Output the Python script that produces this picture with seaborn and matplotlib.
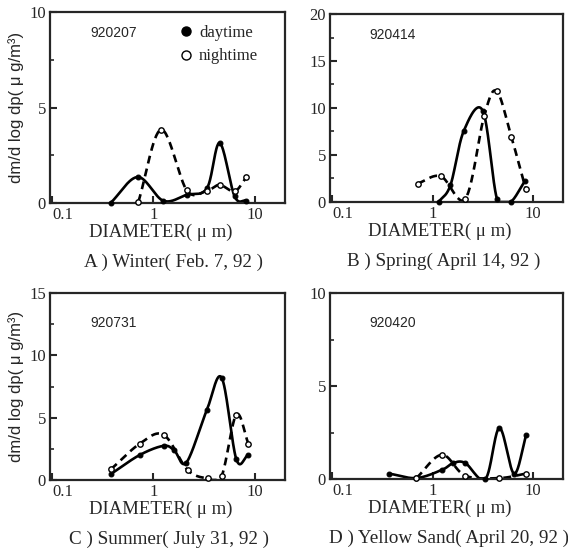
import numpy as np
import matplotlib
matplotlib.use("Agg")
import matplotlib.pyplot as plt
import seaborn as sns
from matplotlib.lines import Line2D
from matplotlib.ticker import FixedLocator, NullLocator, MultipleLocator

# ---------------- data ----------------
A_day_x = [0.38, 0.70, 1.25, 2.14, 3.39, 4.52, 6.35, 8.3]
A_day_y = [0.02, 1.36, 0.12, 0.43, 0.78, 3.14, 0.35, 0.12]
A_night_x = [0.71, 1.19, 2.14, 3.39, 4.52, 6.35, 8.3]
A_night_y = [0.06, 3.84, 0.66, 0.65, 0.95, 0.61, 1.36]

B_day_x = [1.15, 1.51, 2.05, 3.17, 4.4, 6.0, 8.3]
B_day_y = [0.0, 1.8, 7.57, 9.7, 0.3, 0.0, 2.2]
B_night_x = [0.71, 1.21, 2.13, 3.27, 4.36, 6.13, 8.5]
B_night_y = [1.96, 2.74, 0.36, 9.14, 11.8, 6.87, 1.4]

C_day_x = [0.38, 0.73, 1.26, 1.61, 2.12, 3.37, 4.73, 6.6, 8.6]
C_day_y = [0.48, 2.0, 2.74, 2.37, 1.4, 5.6, 8.2, 1.67, 1.99]
C_night_x = [0.38, 0.73, 1.26, 2.18, 3.47, 4.73, 6.6, 8.7]
C_night_y = [0.86, 2.9, 3.63, 0.8, 0.13, 0.32, 5.24, 2.9]

D_day_x = [0.37, 0.69, 1.25, 1.61, 2.12, 3.37, 4.64, 6.5, 8.6]
D_day_y = [0.29, 0.05, 0.5, 0.86, 0.86, 0.0, 2.74, 0.29, 2.38]
D_night_x = [0.69, 1.24, 2.12, 4.64, 8.6]
D_night_y = [0.05, 1.3, 0.18, 0.05, 0.29]

sample_ids = ["920207", "920414", "920731", "920420"]
captions = ["A ) Winter( Feb. 7, 92 )", "B ) Spring( April 14, 92 )",
            "C ) Summer( July 31, 92 )", "D ) Yellow Sand( April 20, 92 )"]
y_max = [10, 20, 15, 10]
x_tick_vals = [0.1, 1, 10]
x_tick_labels = ["0.1", "1", "10"]
legend_labels = ["daytime", "nightime"]
x_label = "DIAMETER( \u03bc m)"
y_label = "dm/d log dp( \u03bc g/m\u00b3)"

# ---------------- style ----------------
sns.set_style("ticks")
plt.rcParams["font.family"] = ["Liberation Serif", "DejaVu Serif"]
SANS = ["Liberation Sans", "DejaVu Sans"]


def smooth(x, y, n=30):
    """Catmull-Rom curve through the points (log-x space) for drawing."""
    P = np.column_stack([np.log10(x), np.asarray(y, float)])
    pts = np.vstack([2 * P[0] - P[1], P, 2 * P[-1] - P[-2]])
    out = []
    t = np.linspace(0, 1, n, endpoint=False)[:, None]
    for i in range(1, len(pts) - 2):
        p0, p1, p2, p3 = pts[i - 1:i + 3]
        c = 0.5 * (2 * p1 + (-p0 + p2) * t + (2 * p0 - 5 * p1 + 4 * p2 - p3) * t ** 2
                   + (-p0 + 3 * p1 - 3 * p2 + p3) * t ** 3)
        out.append(c)
    out.append(P[-1][None])
    c = np.vstack(out)
    return 10 ** c[:, 0], np.clip(c[:, 1], 0, None)


W, H = 568, 548
fig = plt.figure(figsize=(W / 100, H / 100), dpi=100)

# axes boxes in pixels: left, top, right, bottom
boxes = [(50, 12, 285, 203), (330, 14, 563, 202), (50, 293, 285, 480), (330, 293, 563, 479)]
caption_cx = [174, 444, 169, 449]
series = [(A_day_x, A_day_y, A_night_x, A_night_y),
          (B_day_x, B_day_y, B_night_x, B_night_y),
          (C_day_x, C_day_y, C_night_x, C_night_y),
          (D_day_x, D_day_y, D_night_x, D_night_y)]

for i, ((l, t, r, b), (dx, dy, nx, ny)) in enumerate(zip(boxes, series)):
    ax = fig.add_axes([l / W, 1 - b / H, (r - l) / W, (b - t) / H])
    ax.set_xscale("log")
    ax.set_xlim(0.095, 20)
    ax.set_ylim(0, y_max[i])

    sx, sy = smooth(dx, dy)
    sns.lineplot(x=sx, y=sy, ax=ax, sort=False, estimator=None, color="black", lw=1.9)
    sx, sy = smooth(nx, ny)
    sns.lineplot(x=sx, y=sy, ax=ax, sort=False, estimator=None, color="black", lw=1.9,
                 linestyle=(0, (3, 2)))
    sns.scatterplot(x=dx, y=dy, ax=ax, color="black", edgecolor="black", s=12,
                    linewidth=0.8, zorder=4, clip_on=False)
    sns.scatterplot(x=nx, y=ny, ax=ax, color="white", edgecolor="black", s=15,
                    linewidth=1.0, zorder=4, clip_on=False)

    ax.xaxis.set_major_locator(FixedLocator(x_tick_vals))
    ax.set_xticklabels(x_tick_labels)
    ax.get_xticklabels()[0].set_ha("left")
    ax.xaxis.set_minor_locator(NullLocator())
    ax.yaxis.set_major_locator(MultipleLocator(5))
    ax.yaxis.set_minor_locator(MultipleLocator(2.5))
    ax.tick_params(axis="both", which="major", direction="in", length=5, width=1.5,
                   labelsize=12, pad=3)
    ax.tick_params(axis="y", which="minor", direction="in", length=3, width=1.2)
    for s in ax.spines.values():
        s.set_linewidth(1.6)
        s.set_visible(True)

    ax.set_xlabel(x_label, fontsize=13.5)
    ax.xaxis.set_label_coords(0.47, -29 / (b - t))
    ax.xaxis.label.set_va("center")
    if i in (0, 2):
        ax.set_ylabel(y_label, fontsize=12, family=SANS, labelpad=4)
    else:
        ax.set_ylabel("")

    id_y = 0.89 if i < 2 else 0.84
    ax.text(0.17, id_y, sample_ids[i], transform=ax.transAxes, fontsize=10,
            family=SANS, va="center", ha="left")

    fig.text(caption_cx[i] / W, 1 - (b + 59) / H, captions[i],
             ha="center", va="center", fontsize=13.8)

    if i == 0:
        handles = [Line2D([], [], ls="none", marker="o", ms=6.5, mfc="black", mec="black"),
                   Line2D([], [], ls="none", marker="o", ms=6.5, mfc="white", mec="black", mew=1.0)]
        ax.legend(handles, legend_labels, loc="upper left", bbox_to_anchor=(0.5, 0.985),
                  frameon=False, fontsize=12, handletextpad=0.3, labelspacing=0.45,
                  handlelength=1.0, borderaxespad=0.2)

fig.savefig("out.png", dpi=100)
